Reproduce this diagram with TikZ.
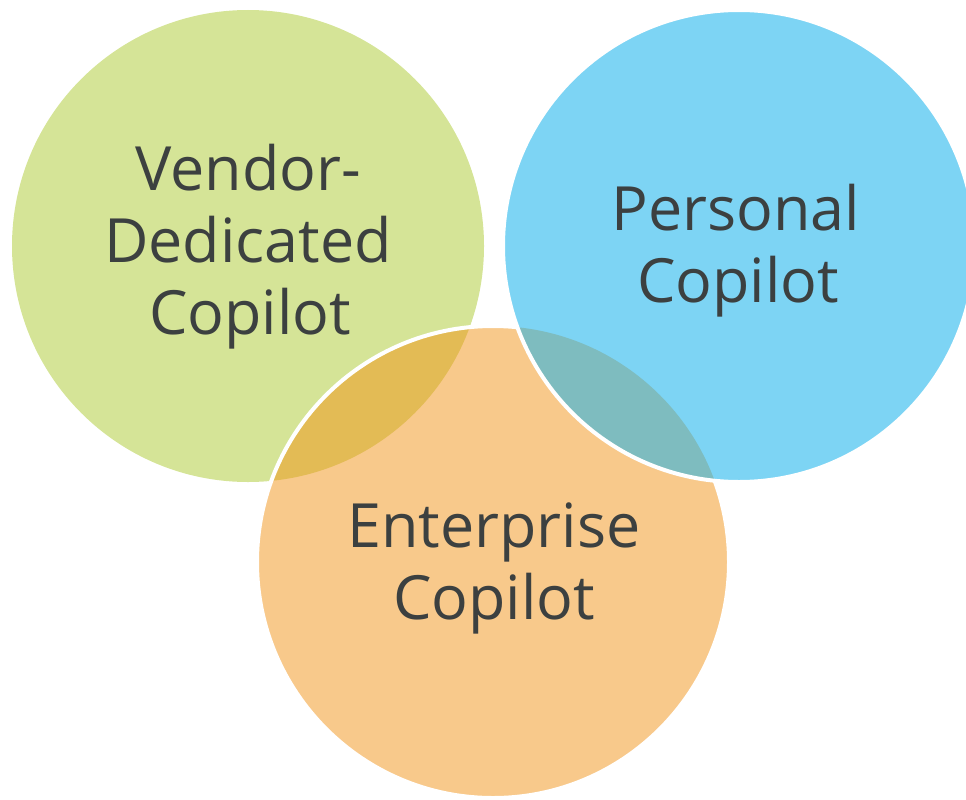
\documentclass[tikz,border=0pt]{standalone}
\usepackage{fontspec}
\setmainfont{Open Sans}
\definecolor{vgreen}{HTML}{D5E497}
\definecolor{pblue}{HTML}{7DD4F4}
\definecolor{eorange}{HTML}{F8C98B}
\definecolor{lensgold}{HTML}{E3BB55}
\definecolor{lensteal}{HTML}{7EBCBF}
\definecolor{labeltext}{HTML}{3C4040}
\begin{document}
\begin{tikzpicture}[x=1pt,y=-1pt,
  lbl/.style={font=\fontsize{61}{72}\selectfont, text=labeltext, anchor=base, inner sep=0pt},
  ring/.style={draw=white, line width=4}]
\path[use as bounding box] (0,0) rectangle (966,800);
\clip (0,0) rectangle (966,800);
\coordinate (g) at (248,246);
\coordinate (b) at (739,246);
\coordinate (o) at (493,562);
\def\rad{236}
% vendor-dedicated circle
\fill[vgreen] (g) circle[radius=\rad];
% enterprise circle and its overlap with the green one
\fill[eorange] (o) circle[radius=\rad];
\begin{scope}
  \clip (o) circle[radius=\rad];
  \fill[lensgold] (g) circle[radius=\rad];
\end{scope}
\draw[ring] (o) circle[radius=\rad];
% personal circle and its overlap with the orange one
\fill[pblue] (b) circle[radius=\rad];
\begin{scope}
  \clip (b) circle[radius=\rad];
  \fill[lensteal] (o) circle[radius=\rad];
\end{scope}
\draw[ring] (b) circle[radius=\rad];
% labels
\node[lbl] (v1) at (248,190) {Vendor-};
\node[lbl] (v2) at (248,262) {Dedicated};
\node[lbl] (v3) at (250,334) {Copilot};
\node[lbl] (p1) at (736,230) {Personal};
\node[lbl] (p2) at (738,302) {Copilot};
\node[lbl] (e1) at (494,547) {Enterprise};
\node[lbl] (e2) at (494,619) {Copilot};
\end{tikzpicture}
\end{document}
